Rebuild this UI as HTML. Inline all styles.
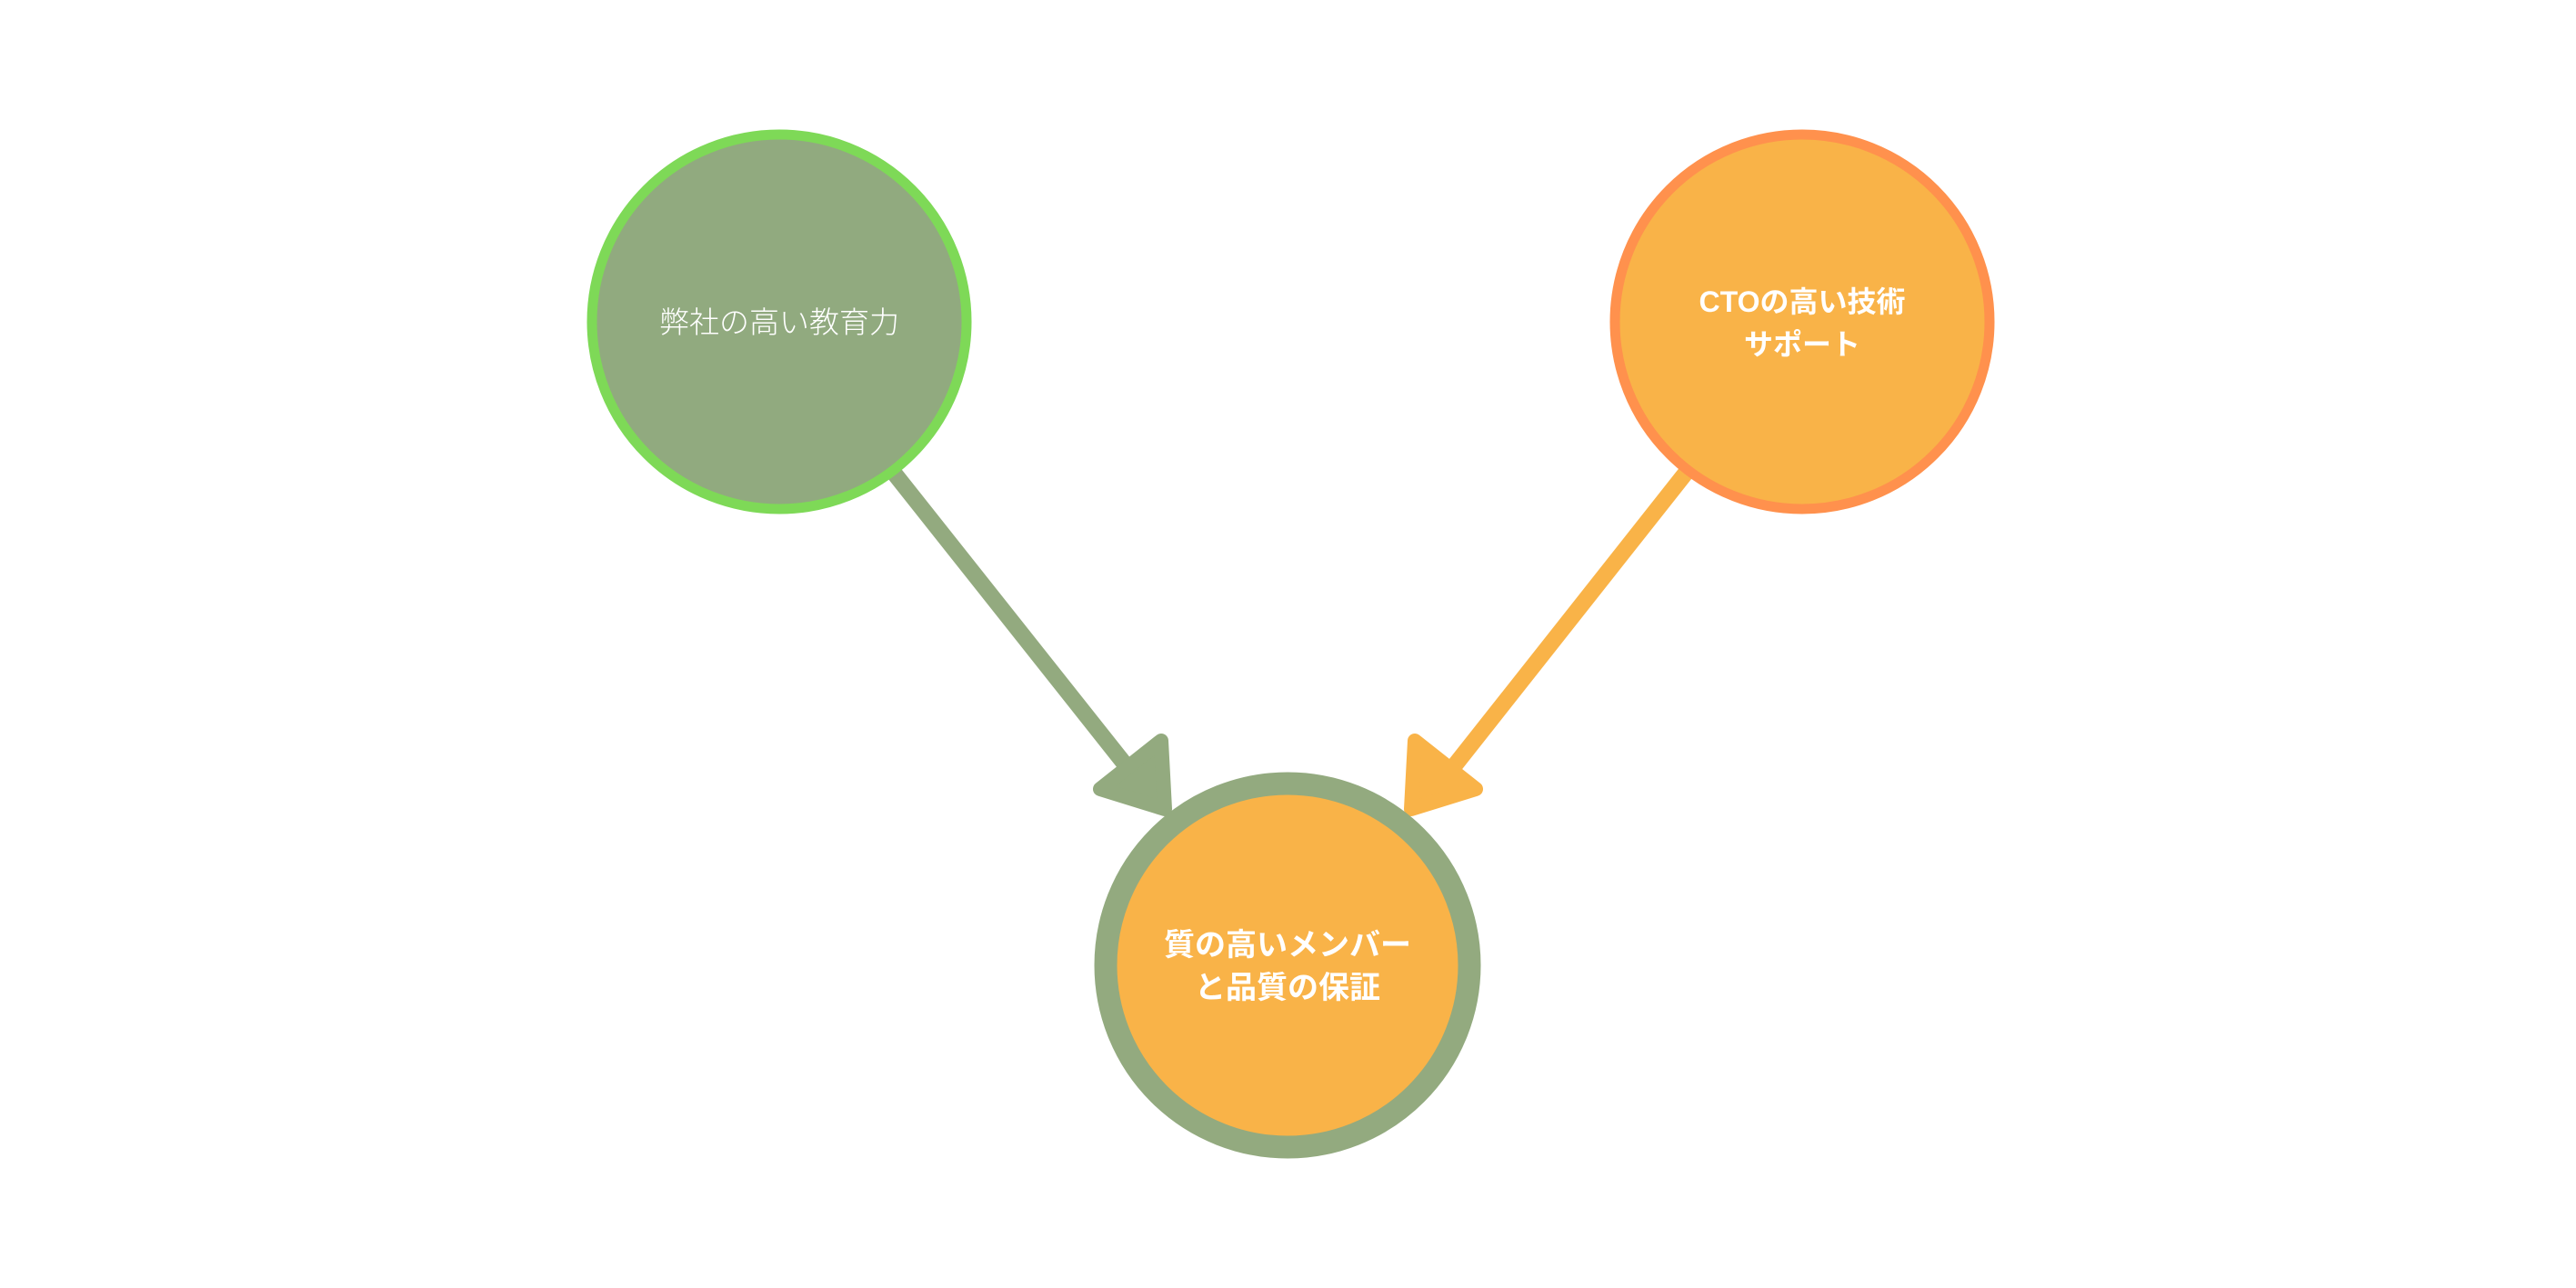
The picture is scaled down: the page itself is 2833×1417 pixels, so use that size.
<!DOCTYPE html>
<html><head><meta charset="utf-8"><style>
html,body{margin:0;padding:0;background:#fff;}
svg{display:block;}
text{font-family:"Liberation Sans","Noto Sans CJK JP",sans-serif;fill:#fff;}
</style></head><body>
<svg width="2833" height="1417" viewBox="0 0 2833 1417" xmlns="http://www.w3.org/2000/svg">
<line x1="975" y1="510" x2="1250" y2="857" stroke="#93AA7F" stroke-width="18"/>
<polygon points="1277,815 1210,868 1281,890" fill="#93AA7F" stroke="#93AA7F" stroke-width="16" stroke-linejoin="round"/>
<line x1="1862" y1="510" x2="1588" y2="857" stroke="#F9B348" stroke-width="18"/>
<polygon points="1556,815 1623,868 1552,890" fill="#F9B348" stroke="#F9B348" stroke-width="16" stroke-linejoin="round"/>
<circle cx="857" cy="354" r="206" fill="#91AA7F" stroke="#7ED957" stroke-width="11"/>
<text x="857" y="366" font-size="33" text-anchor="middle" font-weight="300">弊社の高い教育力</text>
<circle cx="1982" cy="354" r="206" fill="#F9B348" stroke="#FF914D" stroke-width="11"/>
<text x="1982" y="343" font-size="32" text-anchor="middle" font-weight="bold">CTOの高い技術</text>
<text x="1982" y="390" font-size="32" text-anchor="middle" font-weight="bold">サポート</text>
<circle cx="1416" cy="1062" r="200" fill="#F9B348" stroke="#93AA7F" stroke-width="25"/>
<text x="1416" y="1051" font-size="34" text-anchor="middle" font-weight="bold">質の高いメンバー</text>
<text x="1416" y="1098" font-size="34" text-anchor="middle" font-weight="bold">と品質の保証</text>
</svg>
</body></html>
